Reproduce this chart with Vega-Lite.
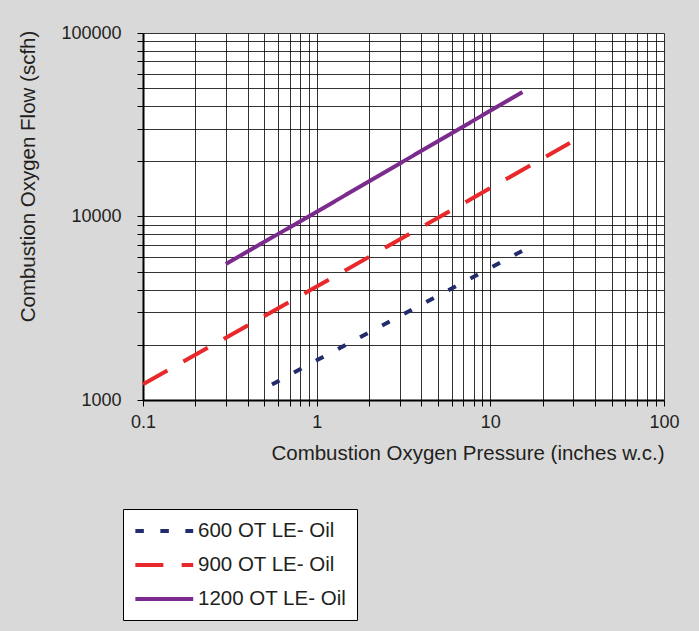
{
  "$schema": "https://vega.github.io/schema/vega-lite/v6.json",
  "autosize": {"type": "none"},
  "width": 521,
  "height": 367,
  "padding": {"left": 143, "top": 33, "right": 35, "bottom": 231},
  "background": "#d9d9d9",
  "data": {
    "values": [
      {"series": "600 OT LE- Oil", "pressure": 0.553, "flow": 1215},
      {"series": "600 OT LE- Oil", "pressure": 1, "flow": 1645},
      {"series": "600 OT LE- Oil", "pressure": 15.3, "flow": 6510},
      {"series": "900 OT LE- Oil", "pressure": 0.1, "flow": 1218},
      {"series": "900 OT LE- Oil", "pressure": 1, "flow": 4150},
      {"series": "900 OT LE- Oil", "pressure": 28.7, "flow": 25150},
      {"series": "1200 OT LE- Oil", "pressure": 0.3, "flow": 5510},
      {"series": "1200 OT LE- Oil", "pressure": 1, "flow": 10600},
      {"series": "1200 OT LE- Oil", "pressure": 15.3, "flow": 47660}
    ]
  },
  "mark": {"type": "line", "strokeWidth": 4, "strokeCap": "butt"},
  "encoding": {
    "x": {
      "field": "pressure", "type": "quantitative",
      "scale": {"type": "log", "domain": [0.1, 100], "nice": false},
      "axis": {
        "title": "Combustion Oxygen Pressure (inches w.c.)",
        "values": [0.1,0.2,0.3,0.4,0.5,0.6,0.7,0.8,0.9,1,2,3,4,5,6,7,8,9,10,20,30,40,50,60,70,80,90,100],
        "labelExpr": "abs(log(datum.value)/LN10 - round(log(datum.value)/LN10)) < 0.001 ? format(datum.value, '~g') : ''",
        "labelOverlap": false,
        "labelFlush": false,
        "labelPadding": 7,
        "titleX": 521,
        "titleY": 59,
        "titleAlign": "right",
        "titleAnchor": "end",
        "titleBaseline": "alphabetic"
      }
    },
    "y": {
      "field": "flow", "type": "quantitative",
      "scale": {"type": "log", "domain": [1000, 100000], "nice": false},
      "axis": {
        "title": "Combustion Oxygen Flow (scfh)",
        "values": [1000,2000,3000,4000,5000,6000,7000,8000,9000,10000,20000,30000,40000,50000,60000,70000,80000,90000,100000],
        "labelExpr": "abs(log(datum.value)/LN10 - round(log(datum.value)/LN10)) < 0.001 ? format(datum.value, '~g') : ''",
        "labelOverlap": false,
        "labelFlush": false,
        "labelPadding": 16,
        "titleX": -105,
        "titleY": 143,
        "titleAlign": "center",
        "titleBaseline": "bottom"
      }
    },
    "color": {
      "field": "series", "type": "nominal",
      "scale": {
        "domain": ["600 OT LE- Oil", "900 OT LE- Oil", "1200 OT LE- Oil"],
        "range": ["#232c6b", "#e8282b", "#7b2a8d"]
      },
      "legend": {
        "title": null,
        "orient": "none",
        "legendX": -20,
        "legendY": 476,
        "direction": "vertical",
        "fillColor": "white",
        "strokeColor": "#000",
        "padding": 10,
        "symbolType": "M-1,0L5,0",
        "symbolSize": 372,
        "symbolStrokeWidth": 4,
        "labelOffset": 41,
        "labelFont": "Liberation Sans",
        "labelFontSize": 20.5,
        "labelColor": "#231f20",
        "rowPadding": 11,
        "labelLimit": 300
      }
    },
    "strokeDash": {
      "field": "series", "type": "nominal",
      "scale": {
        "domain": ["600 OT LE- Oil", "900 OT LE- Oil", "1200 OT LE- Oil"],
        "range": [[8.5, 16.5], [28, 18.3], [1, 0]]
      },
      "legend": null
    }
  },
  "config": {
    "view": {"fill": "white", "stroke": null},
    "axis": {
      "labelFont": "Liberation Sans",
      "titleFont": "Liberation Sans",
      "labelFontSize": 18,
      "titleFontSize": 20.5,
      "titleFontWeight": "normal",
      "labelColor": "#231f20",
      "titleColor": "#231f20",
      "gridColor": "#000",
      "gridOpacity": 0.8,
      "gridWidth": 1,
      "tickColor": "#000",
      "tickSize": 6,
      "tickWidth": 1,
      "domainColor": "#000",
      "domainWidth": 2
    }
  }
}
